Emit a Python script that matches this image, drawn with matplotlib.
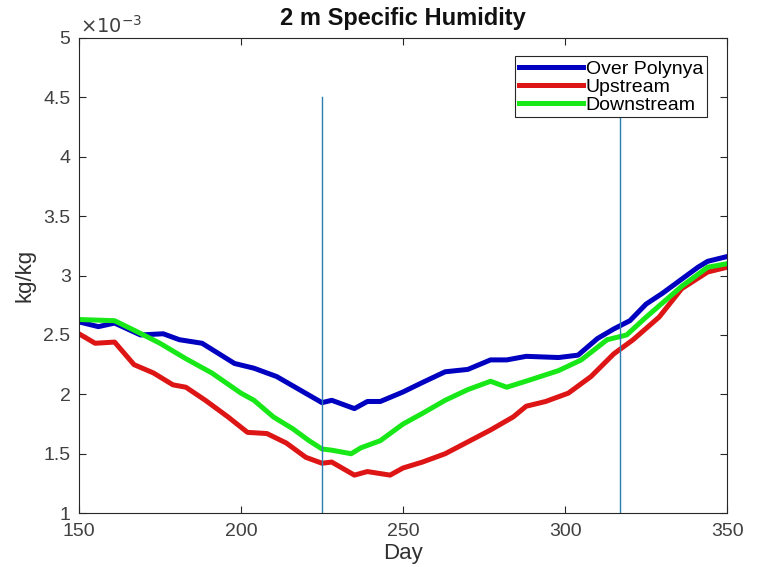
import matplotlib
matplotlib.use("Agg")
import matplotlib.pyplot as plt
from matplotlib.ticker import FuncFormatter

plt.rcParams['font.family'] = ['Liberation Sans', 'DejaVu Sans']

# specific humidity, in units of 1e-3 kg/kg
blue_days = [150, 156, 161, 169, 176, 181, 188, 198, 204, 211, 218, 225, 228, 235, 239, 243,
             250, 256, 263, 270, 277, 282, 288, 298, 304, 310, 315, 320, 325, 330, 336, 341, 344, 350]
blue_q = [2.61, 2.57, 2.60, 2.50, 2.51, 2.46, 2.43, 2.26, 2.22, 2.15, 2.04, 1.93, 1.95, 1.88, 1.94, 1.94,
          2.02, 2.10, 2.19, 2.21, 2.29, 2.29, 2.32, 2.31, 2.33, 2.47, 2.55, 2.62, 2.76, 2.85, 2.97, 3.07, 3.12, 3.16]

red_days = [150, 155, 161, 167, 173, 179, 183, 189, 196, 202, 208, 214, 220, 225, 228, 235, 239, 246,
            250, 256, 263, 270, 277, 284, 288, 294, 301, 308, 315, 321, 329, 336, 344, 350]
red_q = [2.51, 2.43, 2.44, 2.25, 2.18, 2.08, 2.06, 1.95, 1.81, 1.68, 1.67, 1.59, 1.47, 1.42, 1.43, 1.32, 1.35, 1.32,
         1.38, 1.43, 1.50, 1.60, 1.70, 1.81, 1.90, 1.94, 2.01, 2.15, 2.34, 2.46, 2.65, 2.89, 3.03, 3.07]

green_days = [150, 161, 167, 175, 183, 191, 200, 204, 210, 216, 221, 225, 228, 234, 237, 243,
              250, 256, 263, 270, 277, 282, 289, 298, 305, 313, 319, 325, 336, 344, 350]
green_q = [2.63, 2.62, 2.54, 2.43, 2.30, 2.18, 2.01, 1.95, 1.81, 1.71, 1.61, 1.54, 1.53, 1.50, 1.55, 1.61,
           1.75, 1.84, 1.95, 2.04, 2.11, 2.06, 2.12, 2.20, 2.29, 2.46, 2.50, 2.65, 2.91, 3.07, 3.10]

vline_days = [225, 317]
vline_top = 4.5

x_ticks = [150, 200, 250, 300, 350]
y_ticks = [1, 1.5, 2, 2.5, 3, 3.5, 4, 4.5, 5]

scale = 1e-3
fig = plt.figure(figsize=(7.59, 5.67), dpi=100)
ax = fig.add_axes([0.104, 0.095, 0.854, 0.838])

ax.plot(blue_days, [v * scale for v in blue_q], color='#0000c0', lw=3.6, label='Over Polynya')
ax.plot(red_days, [v * scale for v in red_q], color='#dd1515', lw=3.6, label='Upstream')
ax.plot(green_days, [v * scale for v in green_q], color='#18e818', lw=3.6, label='Downstream')
for d in vline_days:
    ax.plot([d, d], [1e-3, vline_top * scale], color='#2a7fb0', lw=1)

ax.set_xlim(150, 350)
ax.set_ylim(1e-3, 5e-3)
ax.set_xticks(x_ticks)
ax.set_yticks([v * scale for v in y_ticks])
ax.yaxis.set_major_formatter(FuncFormatter(lambda v, p: '%g' % round(v / scale, 3)))
ax.text(0.002, 1.003, r'$\times10^{-3}$', transform=ax.transAxes, ha='left', va='bottom',
        fontsize=14, color='#404040')

ax.tick_params(direction='in', top=True, right=True, length=5, labelsize=14,
               colors='#262626', labelcolor='#404040')
ax.tick_params(axis='y', pad=6)
ax.tick_params(axis='x', pad=7)
for s in ax.spines.values():
    s.set_color('#262626')
    s.set_linewidth(0.8)

ax.set_xlabel('Day', fontsize=16, color='#303030', labelpad=2)
ax.set_ylabel('kg/kg', fontsize=16, color='#303030', labelpad=6)
ax.set_title('2 m Specific Humidity', fontsize=17, fontweight='bold', color='#111111', pad=9)

leg = ax.legend(loc='upper right', fontsize=14, handlelength=3.3, handletextpad=0.15,
                borderpad=0.2, labelspacing=0.02, borderaxespad=0, fancybox=False, framealpha=1,
                bbox_to_anchor=(0.969, 0.962))
leg.get_frame().set_edgecolor('#262626')
leg.get_frame().set_linewidth(0.8)
leg.set_zorder(5)

fig.savefig('out.png', dpi=100)
